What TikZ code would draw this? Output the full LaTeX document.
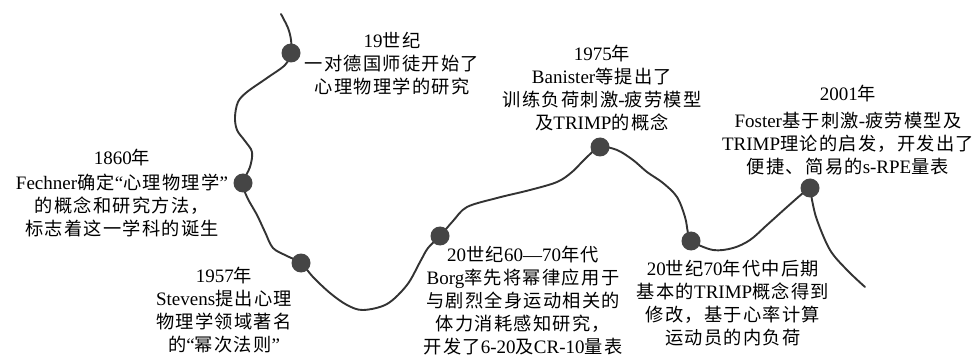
\documentclass[tikz,border=0pt]{standalone}
\usepackage{fontspec}
\setmainfont{Liberation Serif}
\newfontfamily\cjk[Scale=0.96,LetterSpace=7]{Noto Sans CJK SC}
\newcommand\zh[1]{{\cjk #1}}
\definecolor{curvecol}{HTML}{333333}
\definecolor{dotcol}{HTML}{454545}
\begin{document}
\begin{tikzpicture}[x=1pt,y=-1pt,
  lbl/.style={align=center,inner sep=0pt,text=black,font=\fontsize{19}{23}\selectfont},
  curve/.style={draw=curvecol,line width=1.9pt,line cap=round,line join=round},
  dot/.style={circle,fill=dotcol,minimum size=19pt,inner sep=0pt}]
\useasboundingbox[fill=white] (0,0) rectangle (977,358);
% curve anchor points (dot centres and free ends)
\coordinate (s) at (281,14);
\coordinate (p1) at (291,53);
\coordinate (p2) at (243,183);
\coordinate (p3) at (301,263);
\coordinate (p4) at (440,236);
\coordinate (p5) at (600,147);
\coordinate (p6) at (691,241);
\coordinate (p7) at (810,188);
\coordinate (e) at (865,287);
\draw[curve] plot[smooth,tension=0.55] coordinates {
  (s) (288,28) (291,40) (p1) (285,65) (267,78) (247,92) (238,102) (235,117)
  (237,130) (245,141) (252,152) (250,167) (p2) (247,197) (257,215) (265,232)
  (273,248) (287,256) (p3) (313,277) (330,293) (347,305) (363,310) (387,304)
  (407,285) (420,262) (428,248) (p4) (453,221) (467,207) (497,198) (530,190)
  (557,182) (572,172) (587,157) (p5) (617,150) (633,160) (647,172) (663,183)
  (677,197) (685,217) (688,233) (p6) (713,250) (733,248) (750,240) (767,225)
  (787,207) (803,193) (p7) (812,200) (817,220) (830,250) (847,270) (e)};
\node[dot] (d1) at (p1) {};
\node[dot] (d2) at (p2) {};
\node[dot] (d3) at (p3) {};
\node[dot] (d4) at (p4) {};
\node[dot] (d5) at (p5) {};
\node[dot] (d6) at (p6) {};
\node[dot] (d7) at (p7) {};
% labels
\node[lbl] (t1) at (392,66) {\strut 19\zh{世纪}\\\strut\zh{一对德国师徒开始了}\\\strut\zh{心理物理学的研究}};
\node[lbl] (t2) at (122,195) {\strut 1860\zh{年}\\[2pt]\strut Fechner\zh{确定}“\zh{心理物理学}”\\\strut\zh{的概念和研究方法，}\\\strut\zh{标志着这一学科的诞生}};
\node[lbl] (t3) at (224,312) {\strut 1957\zh{年}\\\strut Stevens\zh{提出心理}\\\strut\zh{物理学领域著名}\\\strut\zh{的}“\zh{幂次法则}”};
\node[lbl] (t4) at (523,303) {\strut 20\zh{世纪}60—70\zh{年代}\\\strut Borg\zh{率先将幂律应用于}\\\strut\zh{与剧烈全身运动相关的}\\\strut\zh{体力消耗感知研究，}\\\strut\zh{开发了}6-20\zh{及}CR-10\zh{量表}};
\node[lbl] (t5) at (602,90) {\strut 1975\zh{年}\\\strut Banister\zh{等提出了}\\\strut\zh{训练负荷刺激}-\zh{疲劳模型}\\\strut\zh{及}TRIMP\zh{的概念}};
\node[lbl] (t6) at (733,305) {\strut 20\zh{世纪}70\zh{年代中后期}\\\strut\zh{基本的}TRIMP\zh{概念得到}\\\strut\zh{修改，基于心率计算}\\\strut\zh{运动员的内负荷}};
\node[lbl] (t7) at (848,132) {\strut 2001\zh{年}\\[4pt]\strut Foster\zh{基于刺激}-\zh{疲劳模型及}\\\strut TRIMP\zh{理论的启发，开发出了}\\\strut\zh{便捷、简易的}s-RPE\zh{量表}};
\end{tikzpicture}
\end{document}
